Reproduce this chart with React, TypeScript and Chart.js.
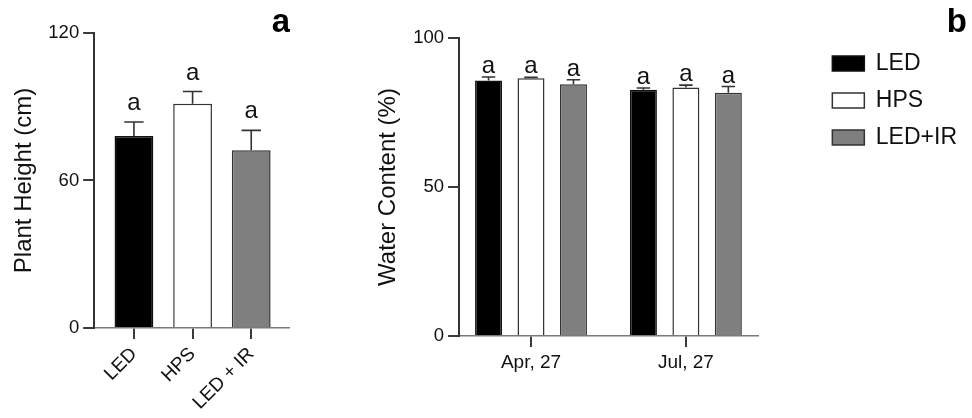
import React, { useEffect, useRef } from 'react';
import { Chart, registerables } from 'chart.js';

Chart.register(...registerables);

const FONT = 'Arial, "Liberation Sans", Helvetica, sans-serif';
const TEXT = '#111111';
const AXIS_Y = '#333333';
const AXIS_X = '#7a7a7a';
const TICK = '#3a3a3a';

// ---- Panel a: plant height ----
const heightCategories = ['LED', 'HPS', 'LED + IR'];
const heightMeans = [78.1, 91.2, 72.3];
const heightErrors = [5.7, 5.0, 8.1];
const heightLetters = ['a', 'a', 'a'];
const heightTicks = [0, 60, 120];

// ---- Panel b: water content ----
const waterDates = ['Apr, 27', 'Jul, 27'];
const waterSeries = ['LED', 'HPS', 'LED+IR'];
const waterLED = [85.7, 82.6];
const waterHPS = [86.5, 83.4];
const waterLEDIR = [84.5, 81.6];
const waterErrLED = [1.2, 0.6];
const waterErrHPS = [0.3, 0.8];
const waterErrLEDIR = [1.5, 2.1];
const waterLetters = ['a', 'a'];
const waterTicks = [0, 50, 100];

const fills = ['#000000', '#ffffff', '#7f7f7f'];
const borders = ['#111111', '#333333', '#333333'];

Chart.defaults.font.family = FONT;
Chart.defaults.color = TEXT;

const errorBarPlugin = {
  id: 'errorBars',
  afterDatasetsDraw(chart: any, _args: any, opts: any) {
    const { ctx } = chart;
    const yScale = chart.scales.y;
    chart.data.datasets.forEach((ds: any, di: number) => {
      const meta = chart.getDatasetMeta(di);
      const errs: number[] = ds.errors || [];
      const letters: string[] = ds.letters || [];
      meta.data.forEach((bar: any, i: number) => {
        const val = ds.data[i].y;
        const top = yScale.getPixelForValue(val + (errs[i] || 0));
        const { x, y, width } = bar.getProps(['x', 'y', 'width'], true);
        const cap = (width * opts.capRatio) / 2;
        ctx.save();
        ctx.strokeStyle = opts.color;
        ctx.lineWidth = opts.lineWidth;
        ctx.beginPath();
        ctx.moveTo(x, y);
        ctx.lineTo(x, top);
        ctx.moveTo(x - cap, top);
        ctx.lineTo(x + cap, top);
        ctx.stroke();
        if (letters[i]) {
          ctx.fillStyle = TEXT;
          ctx.font = `${opts.fontSize}px ${FONT}`;
          ctx.textAlign = 'center';
          ctx.textBaseline = 'alphabetic';
          ctx.fillText(letters[i], x, top - opts.labelGap);
        }
        ctx.restore();
      });
    });
  },
};

function axisGrid() {
  return {
    display: true,
    drawOnChartArea: false,
    drawTicks: true,
    offset: false,
    tickLength: 11,
    color: TICK,
    lineWidth: 2,
  };
}

function leftConfig(): any {
  return {
    type: 'bar',
    data: {
      datasets: [
        {
          label: 'Plant Height',
          data: heightMeans.map((v, i) => ({ x: i, y: v })),
          errors: heightErrors,
          letters: heightLetters,
          backgroundColor: fills,
          borderColor: borders,
          borderWidth: 1.5,
          categoryPercentage: 1,
          barPercentage: 0.661,
          xAxisID: 'x',
          yAxisID: 'y',
        },
      ],
    },
    options: {
      animation: false,
      responsive: false,
      layout: { padding: { left: 10, right: 0, top: 0, bottom: 0 } },
      scales: {
        x: {
          type: 'linear',
          min: -0.678,
          max: 2.661,
          offset: false,
          afterBuildTicks: (s: any) => {
            s.ticks = heightCategories.map((_, i) => ({ value: i }));
          },
          grid: axisGrid(),
          border: { display: true, color: AXIS_X, width: 1.5 },
          ticks: {
            autoSkip: false,
            minRotation: 45,
            maxRotation: 45,
            padding: 4,
            font: { size: 19 },
            color: TEXT,
            callback: (v: any) => heightCategories[Math.round(v)] ?? '',
          },
        },
        y: {
          type: 'linear',
          min: heightTicks[0],
          max: heightTicks[heightTicks.length - 1],
          afterBuildTicks: (s: any) => {
            s.ticks = heightTicks.map((v) => ({ value: v }));
          },
          grid: axisGrid(),
          border: { display: true, color: AXIS_Y, width: 2 },
          ticks: { padding: 4, font: { size: 18.5 }, color: TEXT },
          title: {
            display: true,
            text: 'Plant Height (cm)',
            font: { size: 24 },
            color: TEXT,
            padding: { top: 0, bottom: 5.5 },
          },
        },
      },
      plugins: {
        legend: { display: false },
        tooltip: { enabled: false },
        title: {
          display: true,
          text: 'a',
          align: 'end',
          color: '#000',
          font: { size: 33, weight: 'bold', lineHeight: 0.6 },
          padding: { top: 13.2, bottom: 0 },
        },
        errorBars: { color: '#333', lineWidth: 1.6, capRatio: 0.5, labelGap: 12, fontSize: 24 },
      },
    },
    plugins: [errorBarPlugin],
  };
}

function rightConfig(): any {
  const values = [waterLED, waterHPS, waterLEDIR];
  const errs = [waterErrLED, waterErrHPS, waterErrLEDIR];
  return {
    type: 'bar',
    data: {
      datasets: waterSeries.map((name, si) => ({
        label: name,
        data: values[si].map((v, i) => ({ x: i, y: v })),
        errors: errs[si],
        letters: waterLetters,
        backgroundColor: fills[si],
        borderColor: borders[si],
        borderWidth: 1.5,
        categoryPercentage: 0.8226,
        barPercentage: 0.635,
        xAxisID: 'x',
        yAxisID: 'y',
      })),
    },
    options: {
      animation: false,
      responsive: false,
      layout: { padding: { left: 13.6, right: 5, top: 0, bottom: 40.2 } },
      scales: {
        x: {
          type: 'linear',
          min: -0.4645,
          max: 1.4645,
          offset: false,
          afterBuildTicks: (s: any) => {
            s.ticks = waterDates.map((_, i) => ({ value: i }));
          },
          grid: axisGrid(),
          border: { display: true, color: AXIS_X, width: 1.5 },
          ticks: {
            autoSkip: false,
            minRotation: 0,
            maxRotation: 0,
            padding: 4,
            font: { size: 19 },
            color: TEXT,
            callback: (v: any) => waterDates[Math.round(v)] ?? '',
          },
        },
        y: {
          type: 'linear',
          min: waterTicks[0],
          max: waterTicks[waterTicks.length - 1],
          afterBuildTicks: (s: any) => {
            s.ticks = waterTicks.map((v) => ({ value: v }));
          },
          grid: axisGrid(),
          border: { display: true, color: AXIS_Y, width: 2 },
          ticks: { padding: 4, font: { size: 18.5 }, color: TEXT },
          title: {
            display: true,
            text: 'Water Content (%)',
            font: { size: 24 },
            color: TEXT,
            padding: { top: 0, bottom: 6.8 },
          },
        },
        gap: {
          type: 'linear',
          position: 'right',
          display: true,
          grid: { display: false },
          border: { display: false },
          ticks: { display: false },
          afterFit: (s: any) => {
            s.width = 60.5;
          },
        },
      },
      plugins: {
        legend: {
          display: true,
          position: 'right',
          align: 'start',
          fullSize: false,
          maxWidth: 220,
          labels: {
            boxWidth: 32,
            boxHeight: 15,
            padding: 14,
            font: { size: 23 },
            color: TEXT,
          },
        },
        tooltip: { enabled: false },
        title: {
          display: true,
          text: 'b',
          align: 'end',
          color: '#000',
          font: { size: 33, weight: 'bold', lineHeight: 0.6 },
          padding: { top: 13.2, bottom: 5 },
        },
        errorBars: { color: '#333', lineWidth: 1.6, capRatio: 0.5, labelGap: 4, fontSize: 24 },
      },
    },
    plugins: [errorBarPlugin],
  };
}

export default function App() {
  const leftRef = useRef<HTMLCanvasElement>(null);
  const rightRef = useRef<HTMLCanvasElement>(null);

  useEffect(() => {
    const c1 = new Chart(leftRef.current as HTMLCanvasElement, leftConfig());
    const c2 = new Chart(rightRef.current as HTMLCanvasElement, rightConfig());
    return () => {
      c1.destroy();
      c2.destroy();
    };
  }, []);

  return (
    <div
      style={{
        position: 'fixed',
        left: 0,
        top: 0,
        width: 972,
        height: 418,
        background: '#ffffff',
        overflow: 'hidden',
      }}
    >
      <canvas
        ref={leftRef}
        width={290}
        height={418}
        style={{ position: 'absolute', left: 0, top: 0, width: 290, height: 418 }}
      />
      <canvas
        ref={rightRef}
        width={612}
        height={418}
        style={{ position: 'absolute', left: 360, top: 0, width: 612, height: 418 }}
      />
    </div>
  );
}
